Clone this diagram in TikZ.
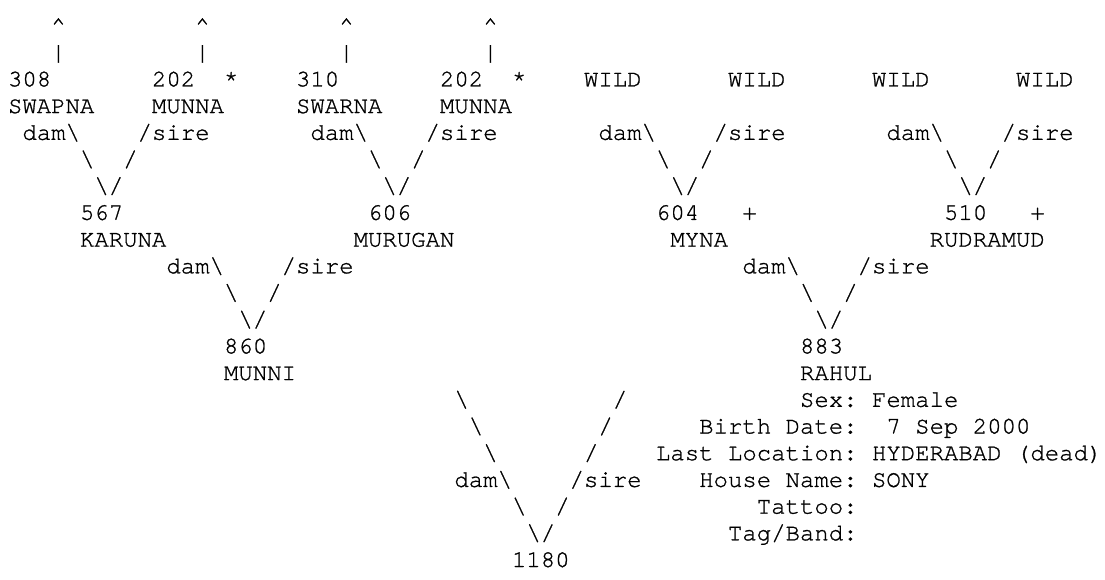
\documentclass[tikz,border=0pt]{standalone}
\usepackage{fontspec}
\setmonofont[FakeBold=1]{texgyrecursor-regular.otf}
\newcommand{\tk}[4]{\node[tok] (#1) at ({8+(#2)*14.4},{-33-((#3)-1)*26.7}) {#4};}
\newcommand{\bs}{\textbackslash}
\begin{document}
\begin{tikzpicture}[x=1pt,y=1pt,
  tok/.style={anchor=base west, inner sep=0pt, outer sep=0pt,
    font=\ttfamily\fontsize{24}{26.7}\selectfont, text=black}]
\fill[white] (0,0) rectangle (1105,-579);
\useasboundingbox (0,0) rectangle (1105,-579);
% row 1-2: arrows up
\tk{c1}{3}{1}{\^{}}   \tk{c2}{13}{1}{\^{}}  \tk{c3}{23}{1}{\^{}}  \tk{c4}{33}{1}{\^{}}
\tk{p1}{3}{2}{|}      \tk{p2}{13}{2}{|}     \tk{p3}{23}{2}{|}     \tk{p4}{33}{2}{|}
% row 3: ids
\tk{n308}{0}{3}{308}  \tk{n202a}{10}{3}{202} \tk{s1}{15}{3}{*}
\tk{n310}{20}{3}{310} \tk{n202b}{30}{3}{202} \tk{s2}{35}{3}{*}
\tk{w1}{40}{3}{WILD}  \tk{w2}{50}{3}{WILD}  \tk{w3}{60}{3}{WILD}  \tk{w4}{70}{3}{WILD}
% row 4: names
\tk{swapna}{0}{4}{SWAPNA} \tk{munnaa}{10}{4}{MUNNA}
\tk{swarna}{20}{4}{SWARNA} \tk{munnab}{30}{4}{MUNNA}
% rows 5-7: first-generation V's
\foreach \o/\k in {0/a,20/b,40/c,60/d}{
  \tk{dam\k}{\o+1}{5}{dam\bs}
  \tk{sire\k}{\o+9}{5}{/sire}
  \tk{vl\k}{\o+5}{6}{\bs}
  \tk{vr\k}{\o+8}{6}{/}
  \tk{vt\k}{\o+6}{7}{\bs/}
}
% row 8-9: parents
\tk{n567}{5}{8}{567} \tk{n606}{25}{8}{606} \tk{n604}{45}{8}{604} \tk{pl1}{51}{8}{+}
\tk{n510}{65}{8}{510} \tk{pl2}{71}{8}{+}
\tk{karuna}{5}{9}{KARUNA} \tk{murugan}{24}{9}{MURUGAN} \tk{myna}{46}{9}{MYNA}
\tk{rudramud}{64}{9}{RUDRAMUD}
% rows 10-12: second-generation V's
\foreach \o/\k in {10/e,50/f}{
  \tk{dam\k}{\o+1}{10}{dam\bs}
  \tk{sire\k}{\o+9}{10}{/sire}
  \tk{vl\k}{\o+5}{11}{\bs}
  \tk{vr\k}{\o+8}{11}{/}
  \tk{vt\k}{\o+6}{12}{\bs/}
}
% rows 13-14: dam and sire
\tk{n860}{15}{13}{860} \tk{n883}{55}{13}{883}
\tk{munni}{15}{14}{MUNNI} \tk{rahul}{55}{14}{RAHUL}
% rows 15-21: final V
\tk{ga1}{31}{15}{\bs} \tk{gb1}{42}{15}{/}
\tk{ga2}{32}{16}{\bs} \tk{gb2}{41}{16}{/}
\tk{ga3}{33}{17}{\bs} \tk{gb3}{40}{17}{/}
\tk{damg}{31}{18}{dam\bs} \tk{sireg}{39}{18}{/sire}
\tk{ga5}{35}{19}{\bs} \tk{gb5}{38}{19}{/}
\tk{gt}{36}{20}{\bs/}
\tk{n1180}{35}{21}{1180}
% details
\tk{lsex}{55}{15}{Sex:}            \tk{vsex}{60}{15}{Female}
\tk{lbirth}{48}{16}{Birth Date:}   \tk{vbirth}{61}{16}{7 Sep 2000}
\tk{lloc}{45}{17}{Last Location:}  \tk{vloc}{60}{17}{HYDERABAD (dead)}
\tk{lhouse}{48}{18}{House Name:}   \tk{vhouse}{60}{18}{SONY}
\tk{ltattoo}{52}{19}{Tattoo:}
\tk{ltag}{50}{20}{Tag/Band:}
\end{tikzpicture}
\end{document}
